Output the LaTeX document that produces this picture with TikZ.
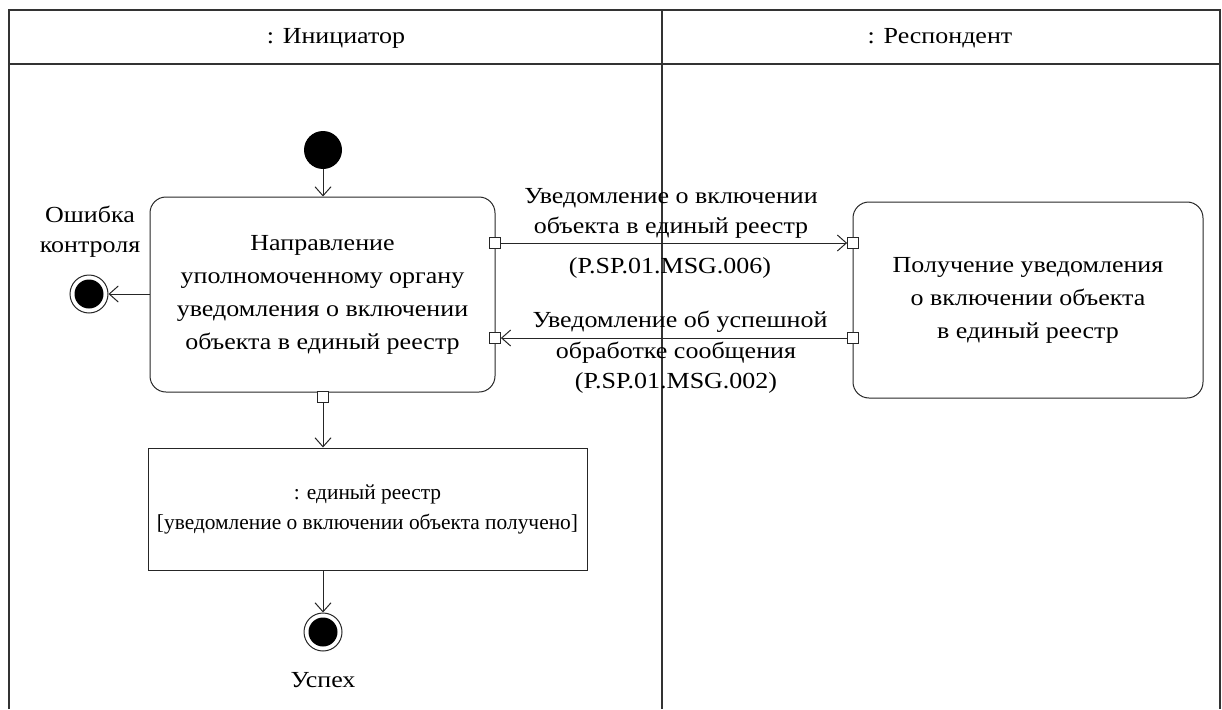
\documentclass[tikz,border=0pt]{standalone}
\usepackage{fontspec}
\setmainfont[FakeStretch=1.13]{Liberation Serif}
\newfontfamily\objfont{Liberation Serif}
\usetikzlibrary{arrows.meta}
\begin{document}
\begin{tikzpicture}[x=1pt,y=-1pt,
  lane/.style={draw=black!80, line width=1.2pt},
  action/.style={draw=black!85, line width=1pt, rounded corners=16pt, align=center, font=\fontsize{23}{33}\selectfont},
  objbox/.style={draw=black!85, line width=1pt, align=center, font=\objfont\fontsize{21.4}{30}\selectfont},
  lbl/.style={align=center, font=\fontsize{23}{30}\selectfont, inner sep=0pt},
  pin/.style={draw=black!85, fill=white, line width=0.8pt, minimum size=11pt, inner sep=0pt},
  initnode/.style={circle, fill=black, minimum size=38pt, inner sep=0pt},
  finalnode/.style={circle, draw=black!85, line width=1pt, fill=white, minimum size=38pt, inner sep=0pt, path picture={\fill[black] (path picture bounding box.center) circle (14.5pt);}},
  flow/.style={draw=black!85, line width=1pt, -{Straight Barb[length=9pt,width=16pt,line width=1pt]}}
]
\useasboundingbox (0,0) rectangle (1222,709);
% swimlane frame
\draw[lane] (9,709) -- (9,10) -- (1220,10) -- (1220,709);
\draw[lane] (9,64) -- (1220,64);
\draw[lane] (662,10) -- (662,709);
\node[lbl] (h1) at (336,38) {: Инициатор};
\node[lbl] (h2) at (940,38) {: Респондент};
% nodes
\node[initnode] (start) at (323,150) {};
\node[action, minimum width=345pt, minimum height=195pt] (a1) at (322.5,294.5) {Направление\\уполномоченному органу\\уведомления о включении\\объекта в единый реестр};
\node[action, minimum width=350pt, minimum height=196pt] (a2) at (1028,300) {Получение уведомления\\о включении объекта\\в единый реестр};
\node[objbox, minimum width=439pt, minimum height=122pt] (o1) at (367.5,509) {: единый реестр\\{[}уведомление о включении объекта получено{]}};
\node[finalnode] (err) at (89,294) {};
\node[lbl, align=center] (errl) at (90,232) {Ошибка\\контроля};
\node[finalnode] (ok) at (323,632) {};
\node[lbl] (okl) at (323,680) {Успех};
% pins
\node[pin] (p1o) at (495,243) {};
\node[pin] (p1i) at (495,338) {};
\node[pin] (p2i) at (853,243) {};
\node[pin] (p2o) at (853,338) {};
\node[pin] (p1b) at (323,397) {};
% flows
\draw[flow] (start) -- (a1.north -| start);
\draw[flow] (a1.west |- err) -- (err);
\draw[flow] (p1o) -- (p2i);
\draw[flow] (p2o) -- (p1i);
\draw[flow] (p1b) -- (o1.north -| p1b);
\draw[flow] (o1.south -| ok) -- (ok);
% labels on flows
\node[lbl] (m1a) at (671,213) {Уведомление о включении\\объекта в единый реестр};
\node[lbl] (m1b) at (670,268) {(P.SP.01.MSG.006)};
\node[lbl] (m2a) at (680,322) {Уведомление об успешной};
\node[lbl] (m2b) at (676,368) {обработке сообщения\\(P.SP.01.MSG.002)};
\end{tikzpicture}
\end{document}
